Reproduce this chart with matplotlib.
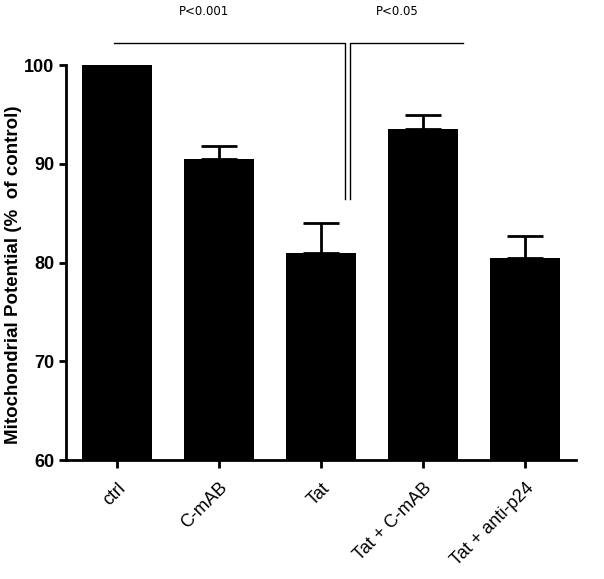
import matplotlib
matplotlib.use("Agg")
import matplotlib.pyplot as plt
import numpy as np

plt.rcParams['font.family'] = ['Liberation Sans Narrow', 'Liberation Sans', 'DejaVu Sans']

groups = ['ctrl', 'C-mAB', 'Tat', 'Tat + C-mAB', 'Tat + anti-p24']
means = [100.0, 90.5, 81.0, 93.5, 80.5]
errors = [0.0, 1.3, 3.0, 1.4, 2.2]

yticks = [60, 70, 80, 90, 100]

fig = plt.figure(figsize=(6.04, 5.79), dpi=100)
ax = fig.add_axes([0.109, 0.2055, 0.845, 0.682])

x = np.arange(len(groups))
ax.bar(x, means, width=0.69, color='black', zorder=2)
err_idx = [i for i, e in enumerate(errors) if e > 0]
ax.errorbar(x[err_idx], [means[i] for i in err_idx],
            yerr=[[0] * len(err_idx), [errors[i] for i in err_idx]],
            fmt='none', ecolor='black', elinewidth=2, capsize=13, capthick=2, zorder=1)

ax.set_ylim(60, 100)
ax.set_xlim(-0.5, 4.5)
ax.set_yticks(yticks)
ax.set_yticklabels([str(t) for t in yticks], fontsize=13, fontweight='bold')
ax.set_xticks(x)
ax.set_xticklabels(groups, rotation=45, ha='right', rotation_mode='anchor',
                   fontsize=13, family=['Liberation Sans', 'DejaVu Sans'])
ax.set_ylabel('Mitochondrial Potential (%  of control)', fontsize=13.5,
              fontweight='bold', family=['Liberation Sans', 'DejaVu Sans'])
ax.yaxis.set_label_coords(-0.086, 0.47)

for s in ['top', 'right']:
    ax.spines[s].set_visible(False)
for s in ['left', 'bottom']:
    ax.spines[s].set_linewidth(2)
ax.tick_params(axis='both', direction='out', width=2, length=5)
ax.tick_params(axis='x', length=6, pad=8)

# significance brackets
ax.plot([-0.03, 2.235, 2.235], [102.2, 102.2, 86.4], color='black', lw=1, clip_on=False)
ax.plot([2.28, 2.28, 3.39], [86.4, 102.2, 102.2], color='black', lw=1, clip_on=False)
ax.text(0.85, 105.4, 'P<0.001', ha='center', va='center', fontsize=8.5, family='DejaVu Sans')
ax.text(2.75, 105.4, 'P<0.05', ha='center', va='center', fontsize=8.5, family='DejaVu Sans')

fig.savefig('out.png', dpi=100)
